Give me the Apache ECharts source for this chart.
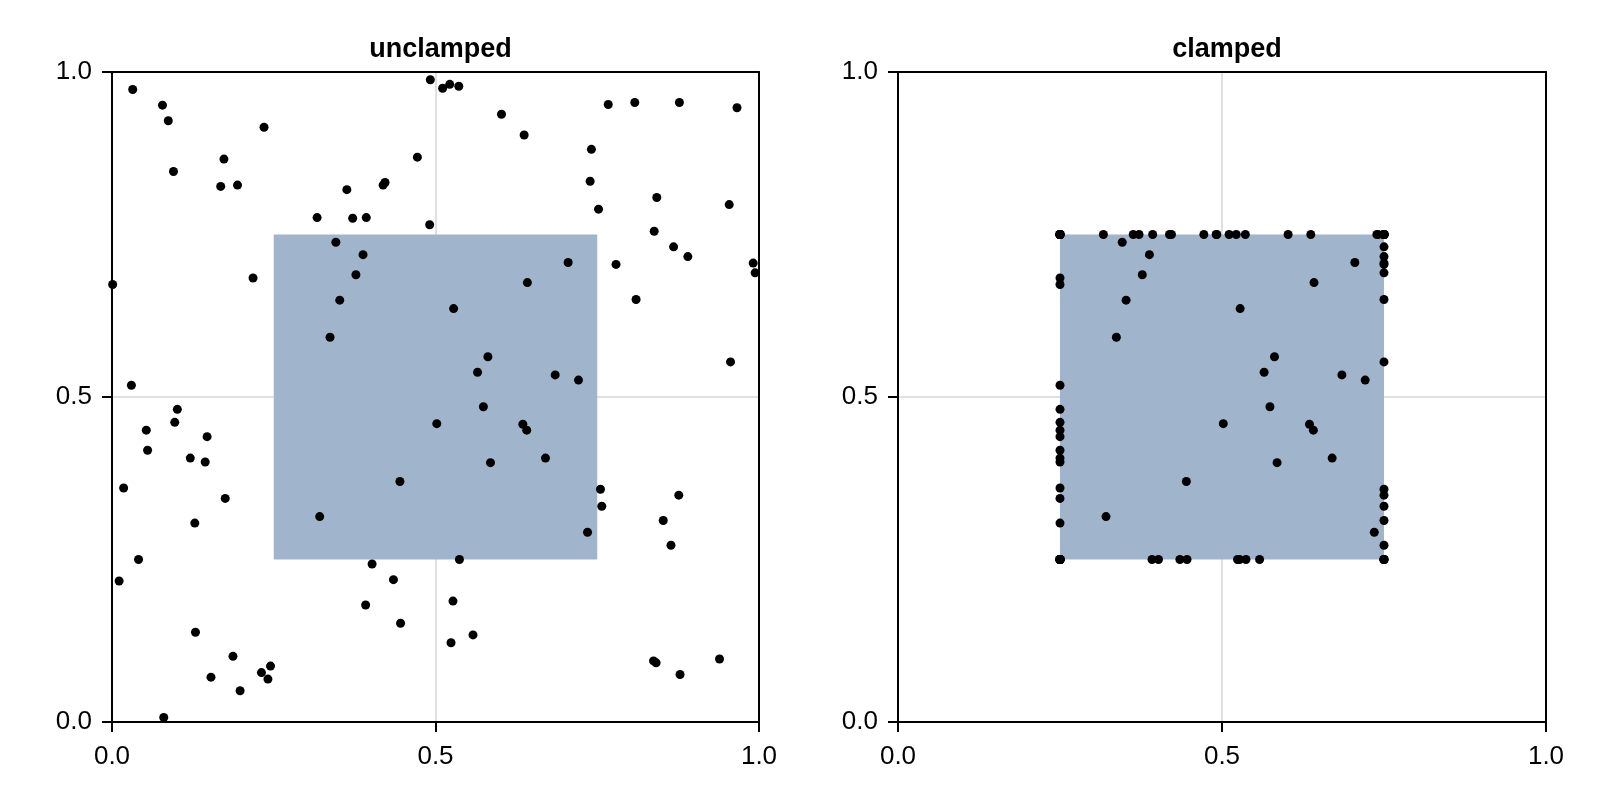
<!DOCTYPE html>
<html>
<head>
<meta charset="utf-8">
<script src="https://cdn.jsdelivr.net/npm/echarts@6/dist/echarts.min.js"></script>
<style>
html,body{margin:0;padding:0;background:#fff;}
#chart{width:1600px;height:800px;}
</style>
</head>
<body>
<div id="chart"></div>
<script>
const titles = ['unclamped', 'clamped'];
const tickValues = [0, 0.5, 1];
const boxBounds = [0.25, 0.75];
const rawX = [0.032,0.078,0.087,0.235,0.173,0.095,0.168,0.194,0.472,0.492,0.363,0.419,0.422,0.317,0.372,0.393,0.491,0.346,0.388,0.377,0.352,0.337,0.218,0.001,0.030,
0.511,0.522,0.536,0.767,0.808,0.877,0.966,0.602,0.637,0.741,0.739,0.842,0.954,0.752,0.838,0.868,0.890,0.991,0.994,0.779,0.705,0.642,0.810,0.528,0.581,0.565,0.685,0.721,0.956,
0.101,0.097,0.053,0.147,0.055,0.121,0.144,0.018,0.175,0.128,0.041,0.011,0.129,0.187,0.153,0.231,0.245,0.241,0.198,0.080,0.321,0.445,0.502,0.402,0.435,0.392,0.446,
0.574,0.635,0.641,0.585,0.670,0.755,0.757,0.735,0.876,0.852,0.864,0.537,0.527,0.558,0.524,0.837,0.841,0.878,0.939];
const rawY = [0.973,0.949,0.925,0.915,0.866,0.847,0.824,0.826,0.869,0.988,0.819,0.826,0.830,0.776,0.775,0.776,0.765,0.738,0.719,0.688,0.649,0.592,0.683,0.673,0.518,
0.975,0.981,0.978,0.950,0.953,0.953,0.945,0.935,0.903,0.881,0.832,0.807,0.796,0.789,0.755,0.731,0.716,0.706,0.691,0.704,0.707,0.676,0.650,0.636,0.562,0.538,0.534,0.526,0.554,
0.481,0.461,0.449,0.439,0.418,0.406,0.400,0.360,0.344,0.306,0.250,0.217,0.138,0.101,0.069,0.076,0.086,0.066,0.048,0.007,0.316,0.370,0.459,0.243,0.219,0.180,0.152,
0.485,0.458,0.449,0.399,0.406,0.358,0.332,0.292,0.349,0.310,0.272,0.250,0.186,0.134,0.122,0.094,0.091,0.073,0.097];

const clamp = v => Math.min(Math.max(v, boxBounds[0]), boxBounds[1]);
const clampedX = rawX.map(clamp);
const clampedY = rawY.map(clamp);

const rawPts = rawX.map((x, i) => [x, rawY[i]]);
const clampedPts = clampedX.map((x, i) => [x, clampedY[i]]);

const FONT = '"Liberation Sans", Arial, sans-serif';
const grids = [
  {left: 112, top: 72, width: 647, height: 650},
  {left: 898, top: 72, width: 648, height: 650}
];

const lineBlack = {color: '#000', width: 2};

function xAx(i) {
  return {
    type: 'value', gridIndex: i, min: 0, max: 1, interval: 0.5, position: 'bottom',
    axisLine: {show: true, onZero: false, lineStyle: lineBlack},
    axisTick: {show: true, inside: false, length: 10, lineStyle: lineBlack},
    axisLabel: {show: true, margin: 22, color: '#000', fontSize: 26, fontFamily: FONT,
      formatter: v => v.toFixed(1)},
    splitLine: {show: true, lineStyle: {color: '#e0e0e0', width: 2}}
  };
}
function xAxTop(i) {
  return {
    type: 'value', gridIndex: i, min: 0, max: 1, interval: 0.5, position: 'top',
    axisLine: {show: true, onZero: false, lineStyle: lineBlack},
    axisTick: {show: false}, axisLabel: {show: false}, splitLine: {show: false}
  };
}
function yAx(i) {
  return {
    type: 'value', gridIndex: i, min: 0, max: 1, interval: 0.5, position: 'left',
    axisLine: {show: true, onZero: false, lineStyle: lineBlack},
    axisTick: {show: true, inside: false, length: 10, lineStyle: lineBlack},
    axisLabel: {show: true, margin: 20, color: '#000', fontSize: 26, fontFamily: FONT,
      formatter: v => v.toFixed(1)},
    splitLine: {show: true, lineStyle: {color: '#e0e0e0', width: 2}}
  };
}
function yAxRight(i) {
  return {
    type: 'value', gridIndex: i, min: 0, max: 1, interval: 0.5, position: 'right',
    axisLine: {show: true, onZero: false, lineStyle: lineBlack},
    axisTick: {show: false}, axisLabel: {show: false}, splitLine: {show: false}
  };
}

function boxSeries(i) {
  return {
    type: 'custom', xAxisIndex: i, yAxisIndex: i, z: 1, silent: true,
    data: [[boxBounds[0], boxBounds[0], boxBounds[1], boxBounds[1]]],
    renderItem: function (params, api) {
      const p0 = api.coord([api.value(0), api.value(1)]);
      const p1 = api.coord([api.value(2), api.value(3)]);
      return {
        type: 'rect',
        shape: {x: Math.min(p0[0], p1[0]), y: Math.min(p0[1], p1[1]),
                width: Math.abs(p1[0] - p0[0]), height: Math.abs(p1[1] - p0[1])},
        style: {fill: '#a0b5cc'}
      };
    }
  };
}
function ptSeries(i, pts) {
  return {
    type: 'scatter', xAxisIndex: i, yAxisIndex: i, z: 5, silent: true,
    symbol: 'circle', symbolSize: 9, data: pts,
    itemStyle: {color: '#000', opacity: 1}, clip: true
  };
}

const chart = echarts.init(document.getElementById('chart'), null, {renderer: 'canvas'});
chart.setOption({
  backgroundColor: '#fff',
  animation: false,
  title: titles.map((t, i) => ({
    text: t,
    left: grids[i].left + grids[i].width / 2,
    top: 31,
    textAlign: 'center',
    textStyle: {fontFamily: FONT, fontWeight: 'bold', fontSize: 27, color: '#000'}
  })),
  grid: grids,
  xAxis: [xAx(0), xAx(1), xAxTop(0), xAxTop(1)],
  yAxis: [yAx(0), yAx(1), yAxRight(0), yAxRight(1)],
  series: [boxSeries(0), ptSeries(0, rawPts), boxSeries(1), ptSeries(1, clampedPts)]
});
</script>
</body>
</html>
